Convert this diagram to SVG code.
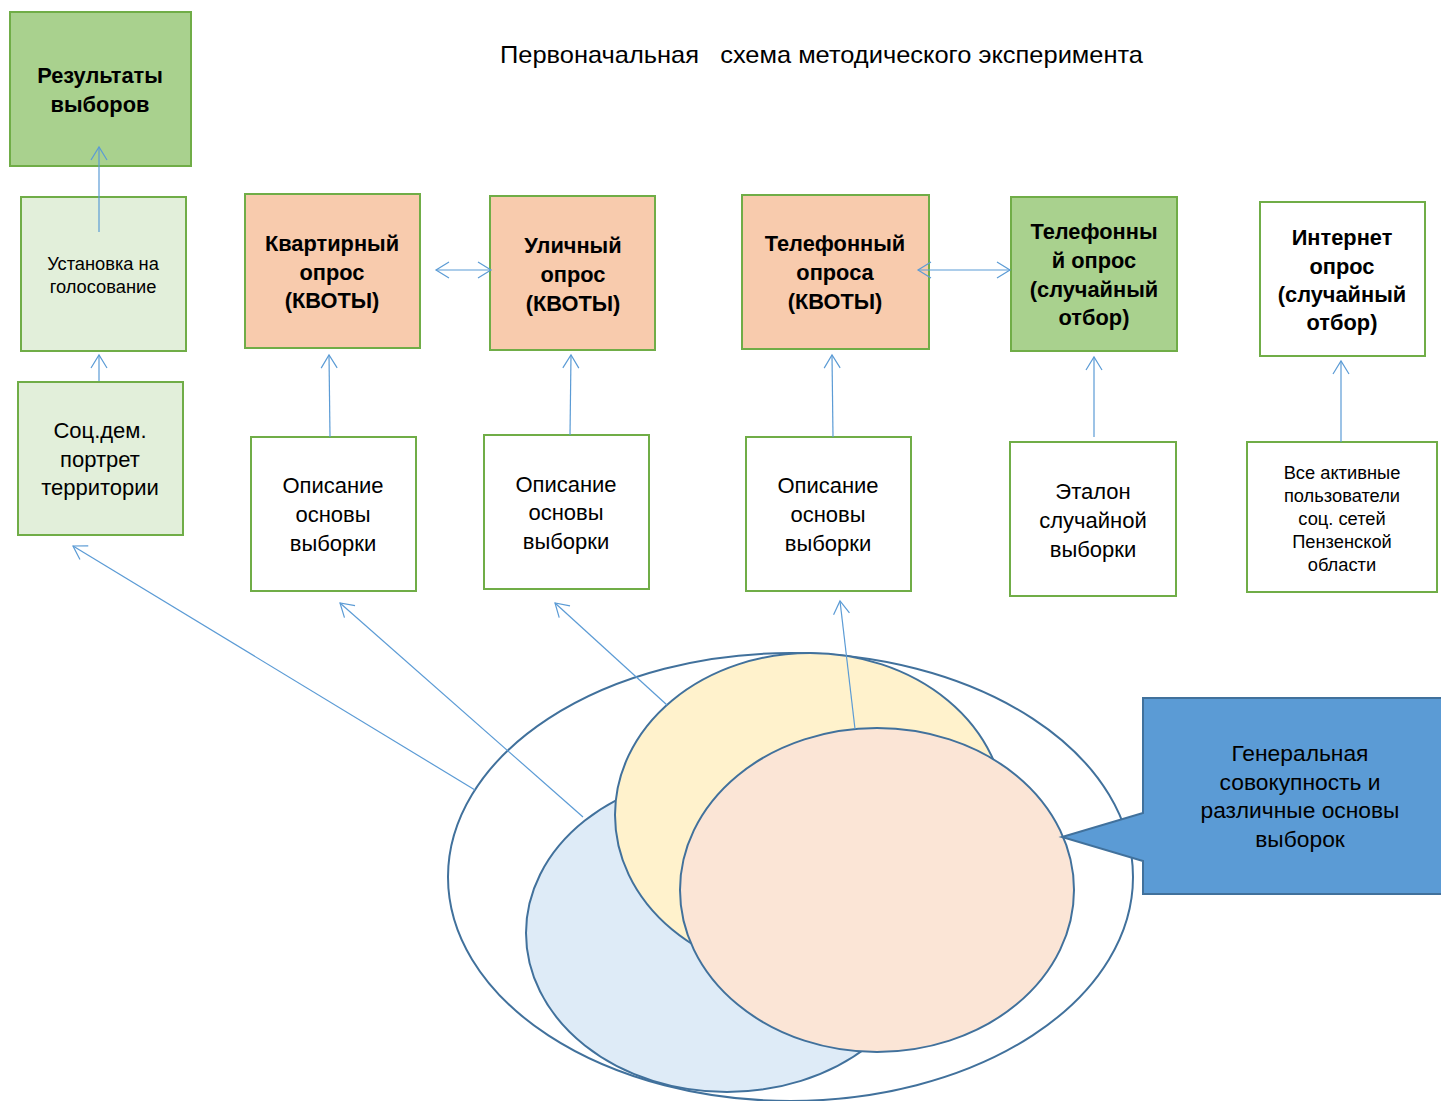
<svg xmlns="http://www.w3.org/2000/svg" width="1441" height="1101" viewBox="0 0 1441 1101">
<style>
text{font-family:"Liberation Sans",Arial,sans-serif;fill:#000;text-anchor:middle}
.b{font-weight:bold;font-size:21.8px}
.r{font-size:22px}
.s{font-size:18.3px}
.c{font-size:22.8px}
.box{stroke:#70ad47;stroke-width:2}
.g{fill:#a9d18e}.lg{fill:#e2efda}.o{fill:#f8cbad}.w{fill:#fff}
.ell{stroke:#41719c;stroke-width:2}
.con{stroke:#5b9bd5;stroke-width:1.2;fill:none}
</style>
<defs>
<marker id="ah" markerUnits="userSpaceOnUse" markerWidth="20" markerHeight="20" refX="0" refY="0" viewBox="-14 -10 16 20" orient="auto-start-reverse">
<path d="M-13,-8 L0,0 L-13,8" fill="none" stroke="#5b9bd5" stroke-width="1.2"/>
</marker>
</defs>
<rect width="1441" height="1101" fill="#fff"/>
<text x="500" y="63" textLength="643" lengthAdjust="spacingAndGlyphs" style="font-size:24px;text-anchor:start;white-space:pre">Первоначальная   схема методического эксперимента</text>

<g id="ellipses">
<ellipse id="outer" cx="790.5" cy="877" rx="342.5" ry="224" fill="#fff" class="ell"/>
<ellipse id="blue" cx="727" cy="933" rx="201" ry="159" fill="#deebf7" class="ell"/>
<ellipse id="yellow" cx="810" cy="815" rx="195" ry="162" fill="#fff2cc" class="ell"/>
<ellipse id="pink" cx="877" cy="890" rx="197" ry="162" fill="#fbe5d6" class="ell"/>
</g>

<g id="n-results"><rect x="10" y="12" width="181" height="154" class="box g"/>
<text class="b" x="100" y="83">Результаты</text><text class="b" x="100" y="112">выборов</text></g>
<g id="n-ustanovka"><rect x="21" y="197" width="165" height="154" class="box lg"/>
<text class="s" x="103" y="270">Установка на</text><text class="s" x="103" y="293">голосование</text></g>
<g id="n-socdem"><rect x="18" y="382" width="165" height="153" class="box lg"/>
<text class="r" x="100" y="438">Соц.дем.</text><text class="r" x="100" y="467">портрет</text><text class="r" x="100" y="495">территории</text></g>

<g id="n-kvartir"><rect x="245" y="194" width="175" height="154" class="box o"/>
<text class="b" x="332" y="251">Квартирный</text><text class="b" x="332" y="280">опрос</text><text class="b" x="332" y="308">(КВОТЫ)</text></g>
<g id="n-ulich"><rect x="490" y="196" width="165" height="154" class="box o"/>
<text class="b" x="573" y="253">Уличный</text><text class="b" x="573" y="282">опрос</text><text class="b" x="573" y="311">(КВОТЫ)</text></g>
<g id="n-tel-kv"><rect x="742" y="195" width="187" height="154" class="box o"/>
<text class="b" x="835" y="251">Телефонный</text><text class="b" x="835" y="280">опроса</text><text class="b" x="835" y="309">(КВОТЫ)</text></g>
<g id="n-tel-sl"><rect x="1011" y="197" width="166" height="154" class="box g"/>
<text class="b" x="1094" y="239">Телефонны</text><text class="b" x="1094" y="268">й опрос</text><text class="b" x="1094" y="297">(случайный</text><text class="b" x="1094" y="325">отбор)</text></g>
<g id="n-internet"><rect x="1260" y="202" width="165" height="154" class="box w"/>
<text class="b" x="1342" y="245">Интернет</text><text class="b" x="1342" y="274">опрос</text><text class="b" x="1342" y="302">(случайный</text><text class="b" x="1342" y="330">отбор)</text></g>

<g id="n-opis1"><rect x="251" y="437" width="165" height="154" class="box w"/>
<text class="r" x="333" y="493">Описание</text><text class="r" x="333" y="522">основы</text><text class="r" x="333" y="551">выборки</text></g>
<g id="n-opis2"><rect x="484" y="435" width="165" height="154" class="box w"/>
<text class="r" x="566" y="492">Описание</text><text class="r" x="566" y="520">основы</text><text class="r" x="566" y="549">выборки</text></g>
<g id="n-opis3"><rect x="746" y="437" width="165" height="154" class="box w"/>
<text class="r" x="828" y="493">Описание</text><text class="r" x="828" y="522">основы</text><text class="r" x="828" y="551">выборки</text></g>
<g id="n-etalon"><rect x="1010" y="442" width="166" height="154" class="box w"/>
<text class="r" x="1093" y="499">Эталон</text><text class="r" x="1093" y="528">случайной</text><text class="r" x="1093" y="557">выборки</text></g>
<g id="n-all"><rect x="1247" y="442" width="190" height="150" class="box w"/>
<text class="s" x="1342" y="479">Все активные</text><text class="s" x="1342" y="502">пользователи</text><text class="s" x="1342" y="525">соц. сетей</text><text class="s" x="1342" y="548">Пензенской</text><text class="s" x="1342" y="571">области</text></g>

<g id="n-callout">
<path d="M1143,698 L1445,698 L1445,894 L1143,894 L1143,861 L1062,837 L1143,813 Z" fill="#5b9bd5" stroke="#41719c" stroke-width="2"/>
<text class="c" x="1300" y="761">Генеральная</text><text class="c" x="1300" y="790">совокупность и</text><text class="c" x="1300" y="818">различные основы</text><text class="c" x="1300" y="847">выборок</text>
</g>

<g id="connectors" class="con">
<line x1="99" y1="232" x2="99" y2="147" marker-end="url(#ah)"/>
<line x1="99" y1="381" x2="99" y2="355" marker-end="url(#ah)"/>
<line x1="330" y1="437" x2="329" y2="355" marker-end="url(#ah)"/>
<line x1="570" y1="435" x2="571" y2="355" marker-end="url(#ah)"/>
<line x1="833" y1="437" x2="832" y2="355" marker-end="url(#ah)"/>
<line x1="1094" y1="437" x2="1094" y2="357" marker-end="url(#ah)"/>
<line x1="1341" y1="442" x2="1341" y2="361" marker-end="url(#ah)"/>
<line x1="436" y1="270" x2="491" y2="270" marker-start="url(#ah)" marker-end="url(#ah)"/>
<line x1="918" y1="270" x2="1010" y2="270" marker-start="url(#ah)" marker-end="url(#ah)"/>
<line x1="475" y1="790" x2="73" y2="546" marker-end="url(#ah)"/>
<line x1="583" y1="817" x2="340" y2="603" marker-end="url(#ah)"/>
<line x1="667" y1="705" x2="555" y2="603" marker-end="url(#ah)"/>
<line x1="855" y1="729" x2="840" y2="601" marker-end="url(#ah)"/>
</g>
</svg>
